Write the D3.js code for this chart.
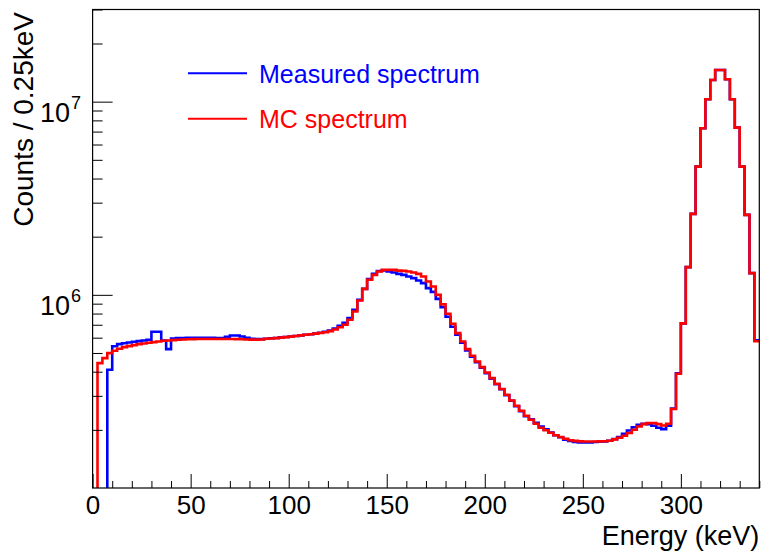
<!DOCTYPE html>
<html>
<head>
<meta charset="utf-8">
<script src="https://cdn.jsdelivr.net/npm/d3@7"></script>
<style>
  html, body { margin: 0; padding: 0; background: #fff; }
  svg { display: block; font-family: "Liberation Sans", Arial, Helvetica, sans-serif; }
</style>
</head>
<body>
<svg id="chart" width="763" height="556"></svg>
<script>
// ---- data (bin width 2.5 keV, 0-340 keV) ----
const binWidth = 2.5;
const energyRange = [0, 340];
const countRange = [1e5, 3e7];

const measured = [
  0, 0, 0, 409300, 541400, 555800, 561100, 566500, 571200, 576000,
  580100, 585000, 643500, 643500, 580100, 523600, 594100, 596900, 597600, 599100,
  599100, 599100, 599100, 599100, 599100, 597600, 597600, 606300, 615700, 615700,
  608400, 599100, 592000, 589900, 589900, 592000, 595500, 597600, 602000, 604800,
  608400, 612100, 616500, 620900, 625300, 630500, 635900, 643500, 652700, 668200,
  691200, 716400, 757700, 836300, 942000, 1074000, 1206000, 1284000, 1328000, 1339000,
  1320000, 1304000, 1284000, 1269000, 1244000, 1220000, 1186000, 1150000, 1083000, 1036000,
  953500, 862000, 769600, 683000, 620900, 564500, 515000, 477800, 447500, 419100,
  392500, 368500, 344300, 324500, 302100, 282900, 265000, 249700, 235200, 226900,
  217600, 208200, 201400, 193800, 187500, 183200, 178100, 175100, 173200, 172200,
  172200, 172200, 173000, 173600, 174200, 175700, 179000, 183600, 190900, 198300,
  206200, 212500, 215000, 214200, 209900, 205000, 201800, 209900, 258100, 392500,
  712000, 1391000, 2625000, 4611000, 7285000, 10300000, 12950000, 14590000, 14590000, 13060000,
  10300000, 7338000, 4611000, 2594000, 1295000, 581000
];

const simulated = [
  0, 443300, 470400, 499300, 513100, 525500, 536300, 542700, 549200, 555800,
  559800, 564500, 569200, 573300, 578100, 580100, 582900, 585000, 587100, 588500,
  589900, 590600, 590600, 590600, 590600, 590600, 590600, 590600, 590600, 589900,
  588500, 587100, 586000, 586000, 587100, 592000, 594100, 596900, 600500, 604100,
  607700, 612100, 616500, 620900, 625300, 629800, 634400, 640400, 648900, 661400,
  678900, 699500, 742500, 819500, 934000, 1074000, 1196000, 1269000, 1320000, 1347000,
  1347000, 1347000, 1335000, 1331000, 1320000, 1304000, 1284000, 1244000, 1172000, 1104000,
  1000000, 893000, 797500, 707900, 633600, 573300, 523600, 483500, 451800, 422600,
  396300, 370700, 346300, 325300, 303900, 283900, 266600, 251200, 236600, 225500,
  215000, 205000, 199000, 193100, 187500, 183600, 179900, 176700, 175300, 174400,
  174200, 174200, 174200, 174400, 174600, 175700, 178500, 182100, 186400, 192500,
  200200, 208200, 214200, 216800, 216800, 214200, 210700, 215000, 256300, 390300,
  712000, 1391000, 2625000, 4611000, 7285000, 10300000, 12950000, 14590000, 14590000, 13060000,
  10300000, 7338000, 4611000, 2594000, 1295000, 575000
];

const xTickValues = d3.range(0, 341, 10);
const xLabelValues = [0, 50, 100, 150, 200, 250, 300];
const yTickValues = [2e5,3e5,4e5,5e5,6e5,7e5,8e5,9e5,1e6,2e6,3e6,4e6,5e6,6e6,7e6,8e6,9e6,1e7,2e7,3e7];
const yLabelValues = [1e6, 1e7];
const seriesNames = ["Measured spectrum", "MC spectrum"];
const seriesColors = ["#0000ff", "#ff0000"];

// ---- layout ----
const svg = d3.select("#chart");
const L = 92.6, R = 759.3, T = 9.5, B = 488;
const x = d3.scaleLinear(energyRange, [L, R]);
const y = d3.scaleLog(countRange, [B, T]);
const font = '"Liberation Sans", Arial, Helvetica, sans-serif';

svg.append("defs").append("clipPath").attr("id", "plotclip")
  .append("rect").attr("x", L).attr("y", T).attr("width", R - L).attr("height", B - T);

// histogram step path
function stepPoints(vals) {
  const pts = vals.map((v, i) => [i * binWidth, v]);
  pts.push([vals.length * binWidth, vals[vals.length - 1]]);
  return pts;
}
const line = d3.line()
  .x(d => x(d[0]))
  .y(d => y(Math.max(d[1], countRange[0] * 0.97)))
  .curve(d3.curveStepAfter);

const plot = svg.append("g").attr("clip-path", "url(#plotclip)");
[measured, simulated].forEach((vals, k) => {
  plot.append("path")
    .attr("d", line(stepPoints(vals)))
    .attr("fill", "none")
    .attr("stroke", seriesColors[k])
    .attr("stroke-width", 2.6)
    .attr("stroke-linejoin", "miter");
});

// x axis
const gx = svg.append("g").attr("transform", `translate(0,${B})`)
  .call(d3.axisBottom(x).tickValues(xTickValues).tickSizeInner(-7).tickSizeOuter(0).tickPadding(8)
    .tickFormat(d => xLabelValues.includes(d) ? d3.format("d")(d) : ""));
gx.select(".domain").remove();
gx.selectAll(".tick line").attr("stroke", "#000")
  .attr("y2", d => d % 50 === 0 ? -14 : -7);
gx.selectAll(".tick text").attr("font-size", 26).attr("font-family", font).attr("fill", "#000");

// y axis
const gy = svg.append("g").attr("transform", `translate(${L},0)`)
  .call(d3.axisLeft(y).tickValues(yTickValues).tickSizeInner(-10).tickSizeOuter(0).tickFormat(() => ""));
gy.select(".domain").remove();
gy.selectAll(".tick line").attr("stroke", "#000")
  .attr("x2", d => yLabelValues.includes(d) ? 20 : 10);

yLabelValues.forEach(v => {
  const ty = y(v);
  svg.append("text").attr("font-family", font).attr("fill", "#000")
    .attr("x", 70).attr("y", ty + 20).attr("font-size", 27)
    .attr("text-anchor", "end").text("10");
  svg.append("text").attr("font-family", font).attr("fill", "#000")
    .attr("x", 71).attr("y", ty + 7).attr("font-size", 18)
    .text(String(Math.round(Math.log10(v))));
});

// frame
svg.append("rect").attr("x", L).attr("y", T).attr("width", R - L).attr("height", B - T)
  .attr("fill", "none").attr("stroke", "#000").attr("stroke-width", 1.2);

// axis titles
svg.append("text").attr("font-family", font).attr("font-size", 27).attr("fill", "#000")
  .attr("text-anchor", "end").attr("x", R).attr("y", 545).text("Energy (keV)");
svg.append("text").attr("font-family", font).attr("font-size", 28).attr("fill", "#000")
  .attr("text-anchor", "end").attr("transform", "translate(33,12) rotate(-90)")
  .text("Counts / 0.25keV");

// legend
const legY = [73.3, 118.8];
const legBase = [82.5, 127.5];
seriesNames.forEach((name, k) => {
  svg.append("line").attr("x1", 188).attr("x2", 247).attr("y1", legY[k]).attr("y2", legY[k])
    .attr("stroke", seriesColors[k]).attr("stroke-width", 2);
  svg.append("text").attr("x", 259).attr("y", legBase[k]).attr("font-family", font)
    .attr("font-size", 25).attr("fill", seriesColors[k]).text(name);
});
</script>
</body>
</html>
